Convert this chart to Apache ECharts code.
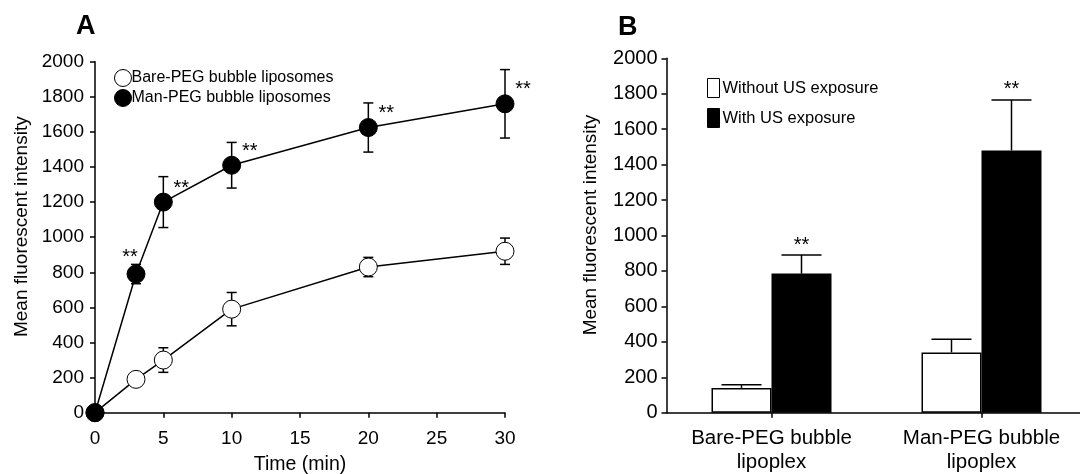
<!DOCTYPE html>
<html>
<head>
<meta charset="utf-8">
<script src="https://cdn.jsdelivr.net/npm/echarts@6/dist/echarts.min.js"></script>
<style>
html,body{margin:0;padding:0;background:#fff;}
#chart{width:1080px;height:474px;}
</style>
</head>
<body>
<div id="chart"></div>
<script>
// ---- Panel A data ----
var timeMin = [0, 3, 5, 10, 20, 30];
var bareMean = [0, 190, 300, 590, 830, 920];
var bareErr  = [0, 0, 70, 95, 55, 75];
var manMean  = [0, 790, 1200, 1410, 1625, 1760];
var manErr   = [0, 55, 145, 130, 140, 195];
var manSig   = [false, true, true, true, true, true];
var xTicksA  = [0, 5, 10, 15, 20, 25, 30];
var yTicks   = [0, 200, 400, 600, 800, 1000, 1200, 1400, 1600, 1800, 2000];

// ---- Panel B data ----
var groupsB   = ['Bare-PEG bubble\nlipoplex', 'Man-PEG bubble\nlipoplex'];
var withoutUS = [140, 340];
var withoutErr= [18, 75];
var withUS    = [785, 1480];
var withErr   = [105, 285];
var withSig   = [true, true];

var FONT = 'Liberation Sans, Arial, Helvetica, sans-serif';
var BAR_W = 60;

var chart = echarts.init(document.getElementById('chart'));

function errA(params, api) {
  var x = api.value(0), y = api.value(1), e = api.value(2);
  if (!e) return null;
  var hi = api.coord([x, y + e]), lo = api.coord([x, y - e]);
  var cw = 5;
  var st = {stroke: '#000', lineWidth: 1.5};
  return {type: 'group', children: [
    {type: 'line', shape: {x1: hi[0], y1: hi[1], x2: lo[0], y2: lo[1]}, style: st},
    {type: 'line', shape: {x1: hi[0]-cw, y1: hi[1], x2: hi[0]+cw, y2: hi[1]}, style: st},
    {type: 'line', shape: {x1: lo[0]-cw, y1: lo[1], x2: lo[0]+cw, y2: lo[1]}, style: st}
  ]};
}

function starsA(params, api) {
  var x = api.value(0), y = api.value(1), s = api.value(2);
  if (!s) return null;
  var p = api.coord([x, y]);
  var dx = 18, dy = -14;
  if (params.dataIndex === 1) { dx = -6; dy = -17; }
  return {type: 'text', x: p[0] + dx, y: p[1] + dy,
    style: {text: '**', font: '20px ' + FONT, fill: '#000', align: 'center', verticalAlign: 'middle'}};
}

function makeErrB(side) {
  return function (params, api) {
    var c = api.value(0), y = api.value(1), e = api.value(2);
    var base = api.coord([c, y]), top = api.coord([c, y + e]);
    var cx = base[0] + side * BAR_W / 2;
    var cw = 20;
    var st = {stroke: '#000', lineWidth: 1.5};
    return {type: 'group', children: [
      {type: 'line', shape: {x1: cx, y1: base[1], x2: cx, y2: top[1]}, style: st},
      {type: 'line', shape: {x1: cx-cw, y1: top[1], x2: cx+cw, y2: top[1]}, style: st}
    ]};
  };
}

function starsB(params, api) {
  var c = api.value(0), y = api.value(1), e = api.value(2), s = api.value(3);
  if (!s) return null;
  var top = api.coord([c, y + e]);
  return {type: 'text', x: top[0] + BAR_W / 2, y: top[1] - 10,
    style: {text: '**', font: '20px ' + FONT, fill: '#000', align: 'center', verticalAlign: 'middle'}};
}

var axisLineStyle = {color: '#000', width: 1.5};
function plain(v) { return String(v); }

var option = {
  backgroundColor: '#fff',
  animation: false,
  textStyle: {fontFamily: FONT, color: '#000'},
  graphic: [
    {type: 'text', left: 76, top: 13, style: {text: 'A', font: 'bold 27px ' + FONT, fill: '#000'}},
    {type: 'text', left: 618, top: 14, style: {text: 'B', font: 'bold 27px ' + FONT, fill: '#000'}}
  ],
  legend: [
    {
      orient: 'vertical', left: 109, top: 64, itemGap: 2,
      icon: 'circle', itemWidth: 17, itemHeight: 17,
      textStyle: {fontSize: 16, fontFamily: FONT, color: '#000', padding: [0, 0, 0, -5]},
      data: [
        {name: 'Bare-PEG bubble liposomes', itemStyle: {color: '#fff', borderColor: '#000', borderWidth: 1}},
        {name: 'Man-PEG bubble liposomes', itemStyle: {color: '#000', borderColor: '#000', borderWidth: 1}}
      ]
    },
    {
      orient: 'vertical', left: 702, top: 73, itemGap: 10,
      icon: 'rect', itemWidth: 12, itemHeight: 19,
      textStyle: {fontSize: 16.5, fontFamily: FONT, color: '#000', padding: [0, 0, 0, -2]},
      data: [
        {name: 'Without US exposure', itemStyle: {color: '#fff', borderColor: '#000', borderWidth: 1}},
        {name: 'With US exposure', itemStyle: {color: '#000', borderColor: '#000', borderWidth: 1}}
      ]
    }
  ],
  grid: [
    {left: 95, top: 61.7, width: 410, height: 351, outerBoundsMode: 'none'},
    {left: 666.5, top: 58.3, width: 420, height: 354.4, outerBoundsMode: 'none'}
  ],
  xAxis: [
    {
      gridIndex: 0, type: 'value', min: xTicksA[0], max: xTicksA[xTicksA.length - 1], interval: 5,
      name: 'Time (min)', nameLocation: 'middle', nameGap: 42,
      nameTextStyle: {fontSize: 19.5, fontFamily: FONT, color: '#000'},
      axisLine: {show: true, lineStyle: axisLineStyle},
      axisTick: {show: true, length: 5, lineStyle: axisLineStyle},
      axisLabel: {fontSize: 19, color: '#000', margin: 17, fontFamily: FONT, formatter: plain},
      splitLine: {show: false}
    },
    {
      gridIndex: 1, type: 'category', data: groupsB,
      axisLine: {show: true, lineStyle: axisLineStyle},
      axisTick: {show: true, length: 5, alignWithLabel: true, lineStyle: axisLineStyle},
      axisLabel: {fontSize: 20.5, color: '#000', margin: 14, lineHeight: 24, fontFamily: FONT},
      splitLine: {show: false}
    }
  ],
  yAxis: [
    {
      gridIndex: 0, type: 'value', min: 0, max: 2000, interval: 200,
      name: 'Mean fluorescent intensity', nameLocation: 'middle', nameGap: 64,
      nameTextStyle: {fontSize: 19, fontFamily: FONT, color: '#000', padding: [0, 0, 0, 21]},
      axisLine: {show: true, lineStyle: axisLineStyle},
      axisTick: {show: true, length: 5, lineStyle: axisLineStyle},
      axisLabel: {fontSize: 19, color: '#000', margin: 11, fontFamily: FONT, formatter: plain},
      splitLine: {show: false}
    },
    {
      gridIndex: 1, type: 'value', min: 0, max: 2000, interval: 200,
      name: 'Mean fluorescent intensity', nameLocation: 'middle', nameGap: 66,
      nameTextStyle: {fontSize: 19, fontFamily: FONT, color: '#000', padding: [0, 0, 0, 21]},
      axisLine: {show: true, lineStyle: axisLineStyle},
      axisTick: {show: true, length: 5, lineStyle: axisLineStyle},
      axisLabel: {fontSize: 20, color: '#000', margin: 9, fontFamily: FONT, formatter: plain},
      splitLine: {show: false}
    }
  ],
  series: [
    {
      type: 'custom', xAxisIndex: 0, yAxisIndex: 0, z: 1, renderItem: errA, silent: true,
      data: timeMin.map(function (t, i) { return [t, bareMean[i], bareErr[i]]; })
    },
    {
      type: 'custom', xAxisIndex: 0, yAxisIndex: 0, z: 1, renderItem: errA, silent: true,
      data: timeMin.map(function (t, i) { return [t, manMean[i], manErr[i]]; })
    },
    {
      name: 'Bare-PEG bubble liposomes', type: 'line', xAxisIndex: 0, yAxisIndex: 0, z: 3,
      data: timeMin.map(function (t, i) { return [t, bareMean[i]]; }),
      symbol: 'circle', symbolSize: 18,
      lineStyle: {color: '#000', width: 1.5},
      itemStyle: {color: '#fff', borderColor: '#000', borderWidth: 1}
    },
    {
      name: 'Man-PEG bubble liposomes', type: 'line', xAxisIndex: 0, yAxisIndex: 0, z: 4,
      data: timeMin.map(function (t, i) { return [t, manMean[i]]; }),
      symbol: 'circle', symbolSize: 18,
      lineStyle: {color: '#000', width: 1.5},
      itemStyle: {color: '#000', borderColor: '#000', borderWidth: 1}
    },
    {
      type: 'custom', xAxisIndex: 0, yAxisIndex: 0, z: 5, renderItem: starsA, silent: true,
      data: timeMin.map(function (t, i) { return [t, manMean[i], manSig[i] ? 1 : 0]; })
    },
    {
      name: 'Without US exposure', type: 'bar', xAxisIndex: 1, yAxisIndex: 1, z: 2,
      data: withoutUS, barWidth: BAR_W, barGap: '0%',
      itemStyle: {color: '#fff', borderColor: '#000', borderWidth: 1.5}
    },
    {
      name: 'With US exposure', type: 'bar', xAxisIndex: 1, yAxisIndex: 1, z: 2,
      data: withUS, barWidth: BAR_W, barGap: '0%',
      itemStyle: {color: '#000', borderColor: '#000', borderWidth: 1.5}
    },
    {
      type: 'custom', xAxisIndex: 1, yAxisIndex: 1, z: 1, renderItem: makeErrB(-1), silent: true,
      data: withoutUS.map(function (v, i) { return [i, v, withoutErr[i]]; })
    },
    {
      type: 'custom', xAxisIndex: 1, yAxisIndex: 1, z: 1, renderItem: makeErrB(1), silent: true,
      data: withUS.map(function (v, i) { return [i, v, withErr[i]]; })
    },
    {
      type: 'custom', xAxisIndex: 1, yAxisIndex: 1, z: 5, renderItem: starsB, silent: true,
      data: withUS.map(function (v, i) { return [i, v, withErr[i], withSig[i] ? 1 : 0]; })
    }
  ]
};
chart.setOption(option);
</script>
</body>
</html>
